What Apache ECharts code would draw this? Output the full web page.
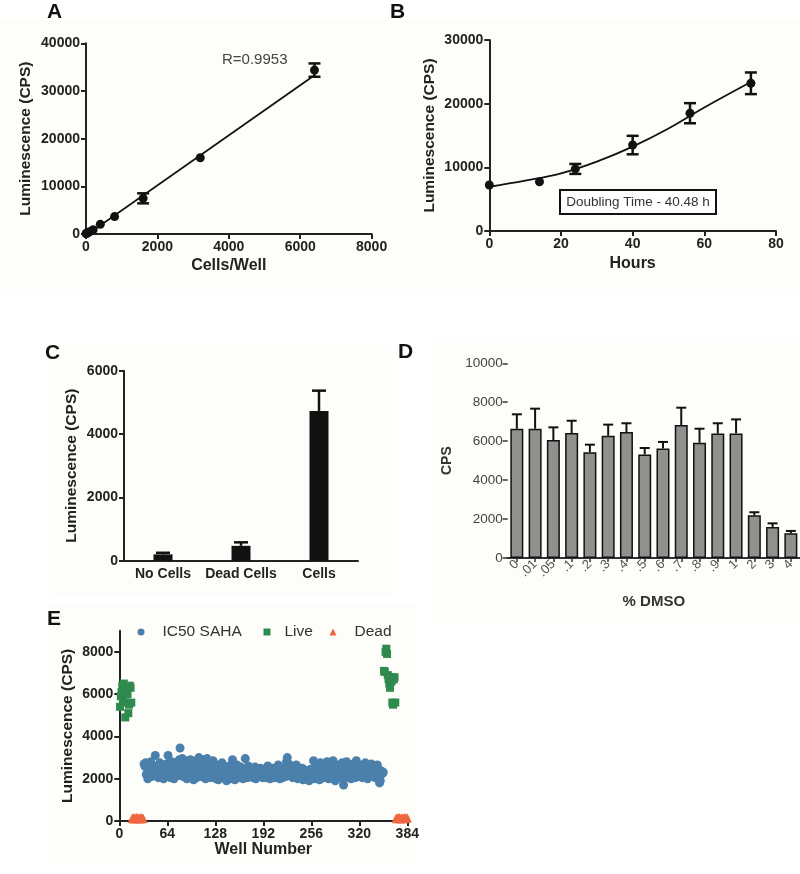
<!DOCTYPE html>
<html><head><meta charset="utf-8">
<script src="https://cdn.jsdelivr.net/npm/echarts@6/dist/echarts.min.js"></script>
<style>html,body{margin:0;padding:0;background:#fff}#c{width:800px;height:874px}</style>
</head><body><div id="c"></div>
<script>
// ---------- Panel A ----------
const A_cells = [0, 25, 50, 100, 200, 400, 800, 1600, 3200, 6400];
const A_mean  = [80, 130, 260, 480, 900, 2030, 3650, 7480, 16000, 34380];
const A_sd    = [0, 0, 0, 0, 0, 0, 0, 1050, 0, 1400];
const A_fitX  = [0, 6400];
const A_fitY  = [-300, 33300];
// ---------- Panel B ----------
const B_hours = [0, 14, 24, 40, 56, 73];
const B_mean  = [7220, 7740, 9750, 13500, 18500, 23200];
const B_sd    = [0, 0, 780, 1450, 1580, 1700];
const B_fitX  = [0, 10, 20, 30, 40, 50, 60, 73];
const B_fitY  = [6950, 7900, 9050, 10900, 13250, 16100, 19400, 23400];
// ---------- Panel C ----------
const C_cats = ['No Cells', 'Dead Cells', 'Cells'];
const C_mean = [200, 470, 4730];
const C_err  = [50, 110, 640];
// ---------- Panel D ----------
const D_cats = ['0', '.01', '.05', '.1', '.2', '.3', '.4', '.5', '.6', '.7', '.8', '.9', '1', '2', '3', '4'];
const D_mean = [6640, 6640, 6060, 6420, 5430, 6280, 6470, 5320, 5630, 6830, 5920, 6390, 6400, 2190, 1590, 1270];
const D_err  = [740, 1030, 650, 630, 390, 570, 450, 330, 330, 890, 720, 530, 720, 160, 190, 120];
// ---------- Panel E ----------
const E_liveWellsL = [1,2,3,4,5,6,7,8,9,10,11,12,13,14,15,16];
const E_liveL = [5400,5900,6100,6400,5700,6500,6200,4900,5600,6300,6000,5100,5500,6400,6300,5600];
const E_deadWellsL = [17,18,19,20,21,22,23,24,25,26,27,28,29,30,31,32];
const E_deadL = [120,150,100,160,130,110,170,140,120,150,100,130,160,110,140,120];
const E_liveWellsR = [353,354,355,356,357,358,359,360,361,362,363,364,365,366,367,368];
const E_liveR = [7100,7050,8000,8150,7900,6900,6700,6500,6300,6800,6600,5600,5500,6700,6800,5600];
const E_deadWellsR = [369,370,371,372,373,374,375,376,377,378,379,380,381,382,383,384];
const E_deadR = [130,110,150,120,160,140,100,130,150,120,110,160,140,130,120,150];
const E_ic50FirstWell = 33;
const E_ic50 = [
 2700,2600,2750,2200,2500,2000,2400,2650,2300,2800,2100,2450,2250,2550,2350,3100,
 2200,2600,2400,2050,2500,2750,2300,2100,2450,2650,2000,2350,2550,2250,2700,2150,
 3100,2400,2600,2050,2300,2800,2200,2500,2000,2650,2350,2450,2750,2150,2550,2900,
 3450,2300,2600,2950,2100,2450,2700,2250,2850,2000,2500,2350,2650,2200,2900,2400,
 2150,2550,1950,2800,2300,2450,2050,2650,2250,3000,2400,2100,2700,2350,2900,2500,
 2200,2600,2000,2450,2950,2300,2150,2750,2400,2050,2550,2250,2850,2350,2100,2600,
 2000,2450,2300,1950,2650,2200,2500,2100,2750,2350,2050,2400,2250,2550,1900,2300,
 2450,2150,2600,2000,2350,2250,2900,2100,2500,1950,2400,2200,2650,2300,2050,2450,
 2200,2550,2100,2350,2000,2450,2250,2950,2150,2400,2050,2600,2300,2200,2500,2100,
 2350,2050,2450,2200,2550,2000,2300,2150,2400,2250,2100,2500,2200,2350,2050,2450,
 2150,2300,2050,2400,2200,2600,2100,2350,2000,2450,2250,2150,2500,2300,2050,2400,
 2200,2350,2100,2650,2250,2000,2400,2150,2300,2050,2500,2200,2350,2100,2800,3000,
 2250,2700,2450,2150,2600,2350,2050,2500,2200,2400,2100,2650,2300,2000,2450,2200,
 2350,2050,2250,2500,1950,2300,2150,2400,2000,2250,2100,2350,1900,2200,2450,2050,
 2300,2150,2850,2000,2400,2650,2200,2050,2500,2250,1950,2750,2350,2100,2450,2200,
 2050,2350,2550,2150,2800,2250,2000,2400,2100,2600,2300,2050,2850,2200,2450,1900,
 2350,2150,2500,2250,2650,2050,2400,2200,2750,2300,1700,2000,2550,2150,2800,2250,
 2450,2100,2600,2300,2000,2500,2250,2700,2150,2400,2050,2850,2200,2550,2350,2100,
 2400,2200,2650,2050,2300,2500,2150,2750,2250,2450,2000,2600,2300,2150,2500,2700,
 2350,2600,2200,2450,2050,2550,2300,2650,2150,2450,1800,1900,2200,2350,2250,2300
];

const FONT = 'Liberation Sans, Arial, Helvetica, sans-serif';
const zip = (a, b) => a.map((v, i) => [v, b[i]]);
const plain = v => String(v);

function errRender(capHalf, lw, both) {
  return function (params, api) {
    const x = api.value(0), lo = api.value(1), hi = api.value(2);
    const a = api.coord([x, lo]), b = api.coord([x, hi]);
    const st = { stroke: '#111', lineWidth: lw, fill: null };
    const ch = [
      { type: 'line', shape: { x1: a[0], y1: a[1], x2: b[0], y2: b[1] }, style: st },
      { type: 'line', shape: { x1: b[0] - capHalf, y1: b[1], x2: b[0] + capHalf, y2: b[1] }, style: st }
    ];
    if (both) ch.push({ type: 'line', shape: { x1: a[0] - capHalf, y1: a[1], x2: a[0] + capHalf, y2: a[1] }, style: st });
    return { type: 'group', children: ch };
  };
}

function axisBase(extra) {
  return Object.assign({
    axisLine: { show: true, onZero: false, lineStyle: { color: '#222', width: 2 } },
    axisTick: { show: true, length: 5, lineStyle: { color: '#222', width: 2 } },
    splitLine: { show: false },
    axisLabel: { color: '#222', fontWeight: 'bold', fontSize: 14, fontFamily: FONT, margin: 6, formatter: plain },
    nameLocation: 'middle',
    nameTextStyle: { color: '#222', fontWeight: 'bold', fontSize: 16, fontFamily: FONT }
  }, extra);
}

const A_errData = []; A_cells.forEach((x, i) => { if (A_sd[i] > 0) A_errData.push([x, A_mean[i] - A_sd[i], A_mean[i] + A_sd[i]]); });
const B_errData = []; B_hours.forEach((x, i) => { if (B_sd[i] > 0) B_errData.push([x, B_mean[i] - B_sd[i], B_mean[i] + B_sd[i]]); });
const C_errData = C_cats.map((c, i) => [i, C_mean[i], C_mean[i] + C_err[i]]);
const D_errData = D_cats.map((c, i) => [i, D_mean[i], D_mean[i] + D_err[i]]);
const E_ic50Data = E_ic50.map((v, i) => [E_ic50FirstWell + i, v]);

const chart = echarts.init(document.getElementById('c'), null, { renderer: 'canvas' });

const cream = '#fdfdf9';
const option = {
  backgroundColor: '#ffffff',
  animation: false,
  textStyle: { fontFamily: FONT },
  graphic: [
    { type: 'rect', z: -10, shape: { x: 0, y: 20, width: 800, height: 270 }, style: { fill: cream } },
    { type: 'rect', z: -10, shape: { x: 50, y: 345, width: 342, height: 250 }, style: { fill: cream } },
    { type: 'rect', z: -10, shape: { x: 433, y: 342, width: 367, height: 280 }, style: { fill: cream } },
    { type: 'rect', z: -10, shape: { x: 47, y: 605, width: 370, height: 260 }, style: { fill: cream } },
    { type: 'text', left: 47, top: 2, style: { text: 'A', font: 'bold 21px ' + FONT, fill: '#111' } },
    { type: 'text', left: 390, top: 2, style: { text: 'B', font: 'bold 21px ' + FONT, fill: '#111' } },
    { type: 'text', left: 45, top: 343, style: { text: 'C', font: 'bold 21px ' + FONT, fill: '#111' } },
    { type: 'text', left: 398, top: 342, style: { text: 'D', font: 'bold 21px ' + FONT, fill: '#111' } },
    { type: 'text', left: 47, top: 609, style: { text: 'E', font: 'bold 21px ' + FONT, fill: '#111' } },
    { type: 'text', left: 222, top: 52, style: { text: 'R=0.9953', font: '15px ' + FONT, fill: '#444' } },
    { type: 'group', left: 559, top: 189, children: [
      { type: 'rect', shape: { x: 0, y: 0, width: 156, height: 24 }, style: { fill: '#fff', stroke: '#111', lineWidth: 2 } },
      { type: 'text', x: 78, y: 12, style: { text: 'Doubling Time - 40.48 h', font: '13.5px ' + FONT, fill: '#333', align: 'center', verticalAlign: 'middle' } }
    ] }
  ],
  grid: [
    { left: 86, top: 43.3, width: 285.6, height: 190.7 },
    { left: 489.3, top: 40, width: 286.7, height: 191 },
    { left: 124, top: 370.7, width: 234, height: 190 },
    { left: 507.7, top: 363.3, width: 293, height: 194.7 },
    { left: 119.3, top: 630.7, width: 288, height: 190.3 }
  ],
  xAxis: [
    axisBase({ gridIndex: 0, type: 'value', min: 0, max: 8000, interval: 2000, name: 'Cells/Well', nameGap: 24 }),
    axisBase({ gridIndex: 1, type: 'value', min: 0, max: 80, interval: 20, name: 'Hours', nameGap: 25 }),
    axisBase({ gridIndex: 2, type: 'category', data: C_cats, axisTick: { show: false }, boundaryGap: true,
      axisLabel: { color: '#222', fontWeight: 'bold', fontSize: 14, fontFamily: FONT, margin: 6, interval: 0 } }),
    axisBase({ gridIndex: 3, type: 'category', data: D_cats, name: '% DMSO', nameGap: 36,
      axisLine: { onZero: false, lineStyle: { color: '#333', width: 2 } },
      axisTick: { show: true, alignWithLabel: true, length: 4, lineStyle: { color: '#333', width: 1.5 } },
      axisLabel: { color: '#555', fontSize: 13, fontFamily: FONT, rotate: 45, margin: 4, interval: 0 },
      nameTextStyle: { color: '#333', fontWeight: 'bold', fontSize: 15, fontFamily: FONT } }),
    axisBase({ gridIndex: 4, type: 'value', min: 0, max: 384, interval: 64, name: 'Well Number', nameGap: 20 })
  ],
  yAxis: [
    axisBase({ gridIndex: 0, type: 'value', min: 0, max: 40000, interval: 10000, name: 'Luminescence (CPS)', nameGap: 52,
      nameTextStyle: { color: '#222', fontWeight: 'bold', fontSize: 15.5, fontFamily: FONT } }),
    axisBase({ gridIndex: 1, type: 'value', min: 0, max: 30000, interval: 10000, name: 'Luminescence (CPS)', nameGap: 52,
      nameTextStyle: { color: '#222', fontWeight: 'bold', fontSize: 15.5, fontFamily: FONT } }),
    axisBase({ gridIndex: 2, type: 'value', min: 0, max: 6000, interval: 2000, name: 'Luminescence (CPS)', nameGap: 44,
      nameTextStyle: { color: '#222', fontWeight: 'bold', fontSize: 15.5, fontFamily: FONT } }),
    axisBase({ gridIndex: 3, type: 'value', min: 0, max: 10000, interval: 2000, name: 'CPS', nameGap: 54,
      axisLine: { onZero: false, lineStyle: { color: '#333', width: 2 } },
      axisTick: { show: true, length: 5, lineStyle: { color: '#333', width: 1.5 } },
      axisLabel: { color: '#444', fontSize: 13.5, fontFamily: FONT, margin: 5, formatter: plain },
      nameTextStyle: { color: '#333', fontWeight: 'bold', fontSize: 14, fontFamily: FONT } }),
    axisBase({ gridIndex: 4, type: 'value', min: 0, max: 9000, name: 'Luminescence (CPS)', nameGap: 44,
      axisTick: { show: true, length: 5, lineStyle: { color: '#222', width: 2 }, customValues: [0, 2000, 4000, 6000, 8000] },
      axisLabel: { color: '#222', fontWeight: 'bold', fontSize: 14, fontFamily: FONT, margin: 6, formatter: plain, customValues: [0, 2000, 4000, 6000, 8000] },
      nameTextStyle: { color: '#222', fontWeight: 'bold', fontSize: 15.5, fontFamily: FONT } })
  ],
  legend: [
    { left: 132.5, top: 619, itemWidth: 7, itemHeight: 7, data: [{ name: 'IC50 SAHA', icon: 'circle' }],
      textStyle: { fontSize: 15.5, color: '#333', fontFamily: FONT, padding: [0, 0, 0, 13] } },
    { left: 258.5, top: 619, itemWidth: 7, itemHeight: 7, data: [{ name: 'Live', icon: 'rect' }],
      textStyle: { fontSize: 15.5, color: '#333', fontFamily: FONT, padding: [0, 0, 0, 9] } },
    { left: 324.5, top: 619, itemWidth: 7, itemHeight: 7, data: [{ name: 'Dead', icon: 'triangle' }],
      textStyle: { fontSize: 15.5, color: '#333', fontFamily: FONT, padding: [0, 0, 0, 13] } }
  ],
  series: [
    { type: 'line', xAxisIndex: 0, yAxisIndex: 0, data: zip(A_fitX, A_fitY), symbol: 'none', lineStyle: { color: '#111', width: 1.8 }, z: 2 },
    { type: 'custom', xAxisIndex: 0, yAxisIndex: 0, data: A_errData, encode: { x: 0, y: [1, 2] }, renderItem: errRender(6, 2.5, true), z: 3 },
    { type: 'scatter', xAxisIndex: 0, yAxisIndex: 0, data: zip(A_cells, A_mean), symbolSize: 9, itemStyle: { color: '#111', opacity: 1 }, z: 4 },
    { type: 'line', xAxisIndex: 1, yAxisIndex: 1, data: zip(B_fitX, B_fitY), smooth: 0.4, symbol: 'none', lineStyle: { color: '#111', width: 1.8 }, z: 2 },
    { type: 'custom', xAxisIndex: 1, yAxisIndex: 1, data: B_errData, encode: { x: 0, y: [1, 2] }, renderItem: errRender(6, 2.5, true), z: 3 },
    { type: 'scatter', xAxisIndex: 1, yAxisIndex: 1, data: zip(B_hours, B_mean), symbolSize: 9, itemStyle: { color: '#111', opacity: 1 }, z: 4 },
    { type: 'bar', xAxisIndex: 2, yAxisIndex: 2, data: C_mean, barWidth: 19, itemStyle: { color: '#111' }, z: 2 },
    { type: 'custom', xAxisIndex: 2, yAxisIndex: 2, data: C_errData, encode: { x: 0, y: [1, 2] }, renderItem: errRender(7, 2.5, false), z: 3 },
    { type: 'bar', xAxisIndex: 3, yAxisIndex: 3, data: D_mean, barWidth: 13, itemStyle: { color: '#8e918e', borderColor: '#111', borderWidth: 1.5 }, z: 2 },
    { type: 'custom', xAxisIndex: 3, yAxisIndex: 3, data: D_errData, encode: { x: 0, y: [1, 2] }, renderItem: errRender(5, 2, false), z: 3 },
    { name: 'IC50 SAHA', type: 'scatter', xAxisIndex: 4, yAxisIndex: 4, data: E_ic50Data, symbol: 'circle', symbolSize: 9, itemStyle: { color: '#4a80ab', opacity: 1 }, z: 3 },
    { name: 'Live', type: 'scatter', xAxisIndex: 4, yAxisIndex: 4, data: zip(E_liveWellsL, E_liveL).concat(zip(E_liveWellsR, E_liveR)), symbol: 'rect', symbolSize: 8, itemStyle: { color: '#2f8a4e', opacity: 1 }, z: 3 },
    { name: 'Dead', type: 'scatter', xAxisIndex: 4, yAxisIndex: 4, data: zip(E_deadWellsL, E_deadL).concat(zip(E_deadWellsR, E_deadR)), symbol: 'triangle', symbolSize: 9, itemStyle: { color: '#f0673f', opacity: 1 }, z: 3, clip: false }
  ]
};
chart.setOption(option);
</script></body></html>
